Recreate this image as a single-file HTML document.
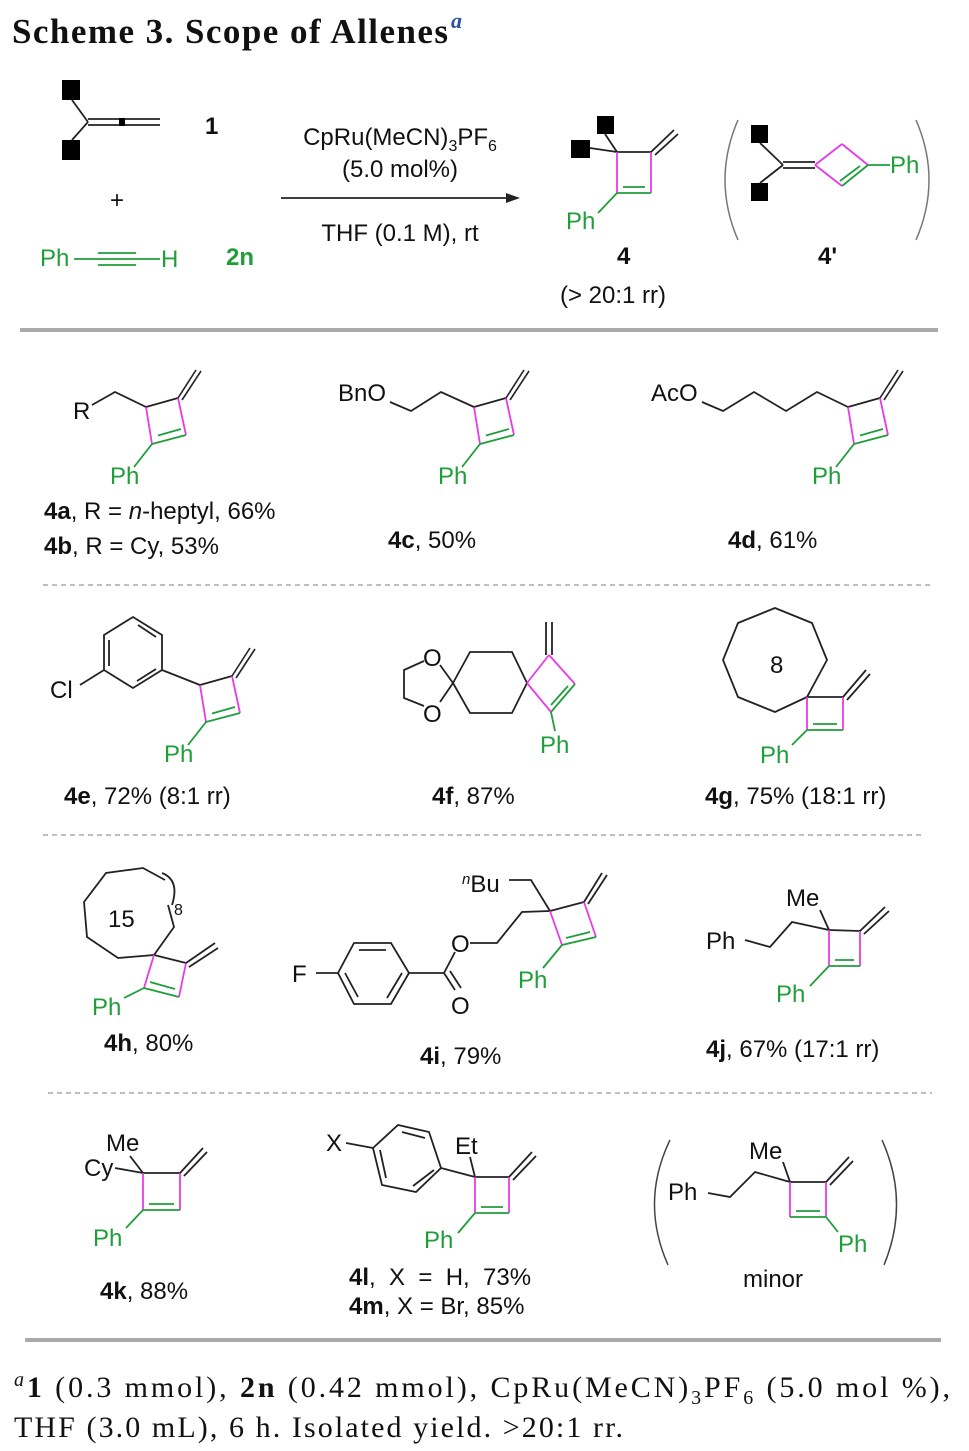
<!DOCTYPE html>
<html><head><meta charset="utf-8"><style>
html,body{margin:0;padding:0;background:#fff}
svg{display:block}
text{font-family:"Liberation Sans",sans-serif;font-size:24px;fill:#111}
.g{fill:#1f9e3a}
.s{font-family:"Liberation Serif",serif}
.b{font-weight:bold}
</style></head><body>
<svg width="969" height="1451" viewBox="0 0 969 1451" xmlns="http://www.w3.org/2000/svg">
<defs>
<g id="tb">
<line x1="0" y1="0" x2="32" y2="-9" stroke="#222" stroke-width="1.8"/>
<line x1="32" y1="-9" x2="40" y2="28" stroke="#e83ae8" stroke-width="1.8"/>
<line x1="0" y1="0" x2="6" y2="37" stroke="#e83ae8" stroke-width="1.8"/>
<line x1="40" y1="28" x2="6" y2="37" stroke="#1f9e3a" stroke-width="1.8"/>
<line x1="35" y1="22" x2="12" y2="28.5" stroke="#1f9e3a" stroke-width="1.8"/>
<line x1="32" y1="-9" x2="50" y2="-37" stroke="#222" stroke-width="1.6"/>
<line x1="36" y1="-7" x2="55" y2="-36" stroke="#222" stroke-width="1.6"/>
<line x1="6" y1="37" x2="-12" y2="60" stroke="#1f9e3a" stroke-width="1.8"/>
</g>
</defs>
<text x="12" y="43" class="s" style="font-size:35px;font-weight:bold;fill:#111" textLength="436" lengthAdjust="spacing">Scheme 3. Scope of Allenes</text>
<text x="451" y="28" class="s" style="font-size:22px;font-style:italic;font-weight:bold;fill:#2a4fa8">a</text>

<!-- reagent 1 -->
<rect x="62" y="80" width="18" height="20" fill="#000"/>
<rect x="62" y="140" width="18" height="20" fill="#000"/>
<g stroke="#222" stroke-width="1.8" fill="none">
<line x1="72" y1="100" x2="88" y2="122"/><line x1="88" y1="122" x2="72" y2="140"/>
<line x1="88" y1="119" x2="160" y2="119"/><line x1="88" y1="125" x2="160" y2="125"/>
</g>
<rect x="119" y="118" width="6" height="8" fill="#000"/>
<text x="205" y="134" class="b">1</text>
<text x="110" y="208">+</text>
<text x="40" y="266" class="g">Ph</text>
<g stroke="#1f9e3a" stroke-width="1.8"><line x1="74" y1="259" x2="160" y2="259"/><line x1="98" y1="253" x2="136" y2="253"/><line x1="98" y1="265" x2="136" y2="265"/></g>
<text x="161" y="267" class="g">H</text>
<text x="226" y="265" class="g b">2n</text>
<!-- arrow -->
<line x1="281" y1="198" x2="512" y2="198" stroke="#222" stroke-width="1.8"/>
<polygon points="520,198 506,193 506,203" fill="#222"/>
<text x="400" y="145" text-anchor="middle">CpRu(MeCN)<tspan dy="6" style="font-size:16px">3</tspan><tspan dy="-6">PF</tspan><tspan dy="6" style="font-size:16px">6</tspan></text>
<text x="400" y="177" text-anchor="middle">(5.0 mol%)</text>
<text x="400" y="241" text-anchor="middle">THF (0.1 M), rt</text>
<!-- product 4 -->
<rect x="597" y="116" width="17" height="18" fill="#000"/>
<rect x="571" y="140" width="19" height="18" fill="#000"/>
<g stroke-width="1.8">
<line x1="605" y1="134" x2="617" y2="152" stroke="#222"/><line x1="590" y1="148" x2="617" y2="152" stroke="#222"/>
<line x1="617" y1="152" x2="651" y2="152" stroke="#222"/>
<line x1="651" y1="152" x2="651" y2="193" stroke="#e83ae8"/><line x1="617" y1="152" x2="617" y2="193" stroke="#e83ae8"/>
<line x1="617" y1="193" x2="651" y2="193" stroke="#1f9e3a"/><line x1="623" y1="187" x2="645" y2="187" stroke="#1f9e3a"/>
<line x1="651" y1="152" x2="674" y2="130" stroke="#222"/><line x1="655" y1="155" x2="678" y2="134" stroke="#222"/>
<line x1="617" y1="193" x2="598" y2="213" stroke="#1f9e3a"/>
</g>
<text x="566" y="229" class="g">Ph</text>
<text x="617" y="264" class="b">4</text>
<text x="560" y="303">(&gt; 20:1 rr)</text>
<!-- 4' -->
<path d="M738,120 Q712,180 738,240" stroke="#777" stroke-width="1.5" fill="none"/>
<path d="M916,120 Q942,180 916,240" stroke="#777" stroke-width="1.5" fill="none"/>
<rect x="751" y="125" width="17" height="18" fill="#000"/>
<rect x="751" y="183" width="17" height="18" fill="#000"/>
<g stroke-width="1.8">
<line x1="760" y1="143" x2="783" y2="165" stroke="#222"/><line x1="783" y1="165" x2="760" y2="183" stroke="#222"/>
<line x1="783" y1="162" x2="815" y2="162" stroke="#222"/><line x1="783" y1="168" x2="815" y2="168" stroke="#222"/>
<line x1="815" y1="165" x2="842" y2="144" stroke="#e83ae8"/><line x1="842" y1="144" x2="868" y2="165" stroke="#e83ae8"/>
<line x1="868" y1="165" x2="842" y2="186" stroke="#1f9e3a"/><line x1="860" y1="166" x2="840" y2="181" stroke="#1f9e3a"/>
<line x1="842" y1="186" x2="815" y2="165" stroke="#e83ae8"/>
<line x1="868" y1="165" x2="890" y2="165" stroke="#1f9e3a"/>
</g>
<text x="890" y="173" class="g">Ph</text>
<text x="818" y="264" class="b">4'</text>
<rect x="20" y="328" width="918" height="4" fill="#aaa"/>

<!-- 4a -->
<use href="#tb" x="146" y="407"/>
<polyline points="92,405 115,392 146,407" stroke="#222" stroke-width="1.8" fill="none"/>
<text x="73" y="419">R</text>
<text x="110" y="484" class="g">Ph</text>
<text x="44" y="519"><tspan class="b">4a</tspan>, R = <tspan font-style="italic">n</tspan>-heptyl, 66%</text>
<text x="44" y="554"><tspan class="b">4b</tspan>, R = Cy, 53%</text>
<!-- 4c -->
<use href="#tb" x="474" y="407"/>
<polyline points="390,402 411,411 441,392 474,407" stroke="#222" stroke-width="1.8" fill="none"/>
<text x="338" y="401">BnO</text>
<text x="438" y="484" class="g">Ph</text>
<text x="388" y="548"><tspan class="b">4c</tspan>, 50%</text>
<!-- 4d -->
<use href="#tb" x="848" y="407"/>
<polyline points="702,402 723,411 754,392 786,411 817,392 848,407" stroke="#222" stroke-width="1.8" fill="none"/>
<text x="651" y="401">AcO</text>
<text x="812" y="484" class="g">Ph</text>
<text x="728" y="548"><tspan class="b">4d</tspan>, 61%</text>
<line x1="43" y1="585" x2="932" y2="585" stroke="#999" stroke-width="1.3" stroke-dasharray="5,4"/>

<!-- 4e -->
<use href="#tb" x="200" y="685"/>
<g stroke="#222" stroke-width="1.8" fill="none">
<polygon points="133,617 162,635 162,670 133,688 104,670 104,635"/>
<line x1="138" y1="625" x2="156" y2="637"/><line x1="109" y1="640" x2="109" y2="666"/><line x1="137" y1="681" x2="156" y2="669"/>
<line x1="162" y1="670" x2="200" y2="685"/><line x1="104" y1="670" x2="80" y2="685"/>
</g>
<text x="50" y="698">Cl</text>
<text x="164" y="762" class="g">Ph</text>
<text x="64" y="804"><tspan class="b">4e</tspan>, 72% (8:1 rr)</text>
<!-- 4f -->
<g stroke-width="1.8" fill="none">
<polyline points="453,683 470,652 512,652 527,683 512,713 470,713 453,683" stroke="#222"/>
<line x1="453" y1="683" x2="440" y2="665" stroke="#222"/><line x1="453" y1="683" x2="440" y2="702" stroke="#222"/>
<polyline points="424,661 404,670 404,698 424,706" stroke="#222"/>
<line x1="527" y1="683" x2="549" y2="655" stroke="#e83ae8"/><line x1="549" y1="655" x2="575" y2="684" stroke="#e83ae8"/>
<line x1="575" y1="684" x2="551" y2="712" stroke="#1f9e3a"/><line x1="568" y1="686" x2="551" y2="705" stroke="#1f9e3a"/>
<line x1="551" y1="712" x2="527" y2="683" stroke="#e83ae8"/>
<line x1="546" y1="655" x2="546" y2="622" stroke="#222"/><line x1="552" y1="655" x2="552" y2="622" stroke="#222"/>
<line x1="551" y1="712" x2="555" y2="731" stroke="#1f9e3a"/>
</g>
<text x="423" y="666">O</text><text x="423" y="722">O</text>
<text x="540" y="753" class="g">Ph</text>
<text x="432" y="804"><tspan class="b">4f</tspan>, 87%</text>
<!-- 4g -->
<g stroke-width="1.8" fill="none">
<polygon points="827,660 807,697 775,712 738,697 723,660 738,623 775,608 812,623" stroke="#222"/>
<line x1="807" y1="697" x2="843" y2="697" stroke="#222"/>
<line x1="843" y1="697" x2="843" y2="730" stroke="#e83ae8"/><line x1="807" y1="697" x2="807" y2="730" stroke="#e83ae8"/>
<line x1="807" y1="730" x2="843" y2="730" stroke="#1f9e3a"/><line x1="813" y1="724" x2="837" y2="724" stroke="#1f9e3a"/>
<line x1="843" y1="697" x2="866" y2="670" stroke="#222"/><line x1="847" y1="700" x2="870" y2="674" stroke="#222"/>
<line x1="807" y1="730" x2="792" y2="745" stroke="#1f9e3a"/>
</g>
<text x="770" y="673">8</text>
<text x="760" y="763" class="g">Ph</text>
<text x="705" y="804"><tspan class="b">4g</tspan>, 75% (18:1 rr)</text>
<line x1="43" y1="835" x2="925" y2="835" stroke="#999" stroke-width="1.3" stroke-dasharray="5,4"/>

<!-- 4h -->
<g stroke-width="1.8" fill="none">
<polyline points="165,880 143,868 106,873 84,902 87,937 118,958 154,955 174,927 168,905" stroke="#222"/>
<path d="M162,873 Q180,880 172,905" stroke="#222"/>
<line x1="154" y1="955" x2="186" y2="963" stroke="#222"/>
<line x1="186" y1="963" x2="179" y2="997" stroke="#e83ae8"/><line x1="154" y1="955" x2="144" y2="988" stroke="#e83ae8"/>
<line x1="144" y1="988" x2="179" y2="997" stroke="#1f9e3a"/><line x1="150" y1="982" x2="175" y2="989" stroke="#1f9e3a"/>
<line x1="186" y1="963" x2="215" y2="943" stroke="#222"/><line x1="189" y1="967" x2="218" y2="948" stroke="#222"/>
<line x1="144" y1="988" x2="124" y2="998" stroke="#1f9e3a"/>
</g>
<text x="174" y="915" style="font-size:16px">8</text>
<text x="108" y="927">15</text>
<text x="92" y="1015" class="g">Ph</text>
<text x="104" y="1051"><tspan class="b">4h</tspan>, 80%</text>
<!-- 4i -->
<g stroke-width="1.8" fill="none">
<polygon points="338,973 354,943 391,943 409,973 391,1004 354,1004" stroke="#222"/>
<line x1="402" y1="973" x2="387" y2="998" stroke="#222"/><line x1="345" y1="973" x2="358" y2="997" stroke="#222"/>
<line x1="359" y1="950" x2="386" y2="950" stroke="#222"/>
<line x1="316" y1="973" x2="338" y2="973" stroke="#222"/>
<line x1="409" y1="973" x2="444" y2="973" stroke="#222"/>
<line x1="444" y1="973" x2="455" y2="952" stroke="#222"/>
<line x1="444" y1="973" x2="455" y2="990" stroke="#222"/><line x1="450" y1="971" x2="461" y2="988" stroke="#222"/>
<polyline points="470,943 497,943 522,912 550,911" stroke="#222"/>
<polyline points="550,911 531,880 509,880" stroke="#222"/>
<line x1="550" y1="911" x2="584" y2="902" stroke="#222"/>
<line x1="584" y1="902" x2="596" y2="937" stroke="#e83ae8"/><line x1="550" y1="911" x2="562" y2="945" stroke="#e83ae8"/>
<line x1="562" y1="945" x2="596" y2="937" stroke="#1f9e3a"/><line x1="566" y1="938" x2="590" y2="932" stroke="#1f9e3a"/>
<line x1="584" y1="902" x2="602" y2="873" stroke="#222"/><line x1="588" y1="904" x2="607" y2="875" stroke="#222"/>
<line x1="562" y1="945" x2="543" y2="968" stroke="#1f9e3a"/>
</g>
<text x="292" y="982">F</text>
<text x="451" y="952">O</text><text x="451" y="1014">O</text>
<text x="462" y="892"><tspan dy="-8" style="font-size:15px;font-style:italic">n</tspan><tspan dy="8">Bu</tspan></text>
<text x="518" y="988" class="g">Ph</text>
<text x="420" y="1064"><tspan class="b">4i</tspan>, 79%</text>
<!-- 4j -->
<g stroke-width="1.8" fill="none">
<line x1="820" y1="910" x2="829" y2="930" stroke="#222"/>
<polyline points="829,930 792,922 770,947 745,940" stroke="#222"/>
<line x1="829" y1="930" x2="860" y2="931" stroke="#222"/>
<line x1="860" y1="931" x2="860" y2="966" stroke="#e83ae8"/><line x1="829" y1="930" x2="829" y2="966" stroke="#e83ae8"/>
<line x1="829" y1="966" x2="860" y2="966" stroke="#1f9e3a"/><line x1="835" y1="960" x2="854" y2="960" stroke="#1f9e3a"/>
<line x1="860" y1="931" x2="885" y2="907" stroke="#222"/><line x1="864" y1="934" x2="889" y2="911" stroke="#222"/>
<line x1="829" y1="966" x2="810" y2="986" stroke="#1f9e3a"/>
</g>
<text x="786" y="906">Me</text>
<text x="706" y="949">Ph</text>
<text x="776" y="1002" class="g">Ph</text>
<text x="706" y="1057"><tspan class="b">4j</tspan>, 67% (17:1 rr)</text>
<line x1="48" y1="1093" x2="932" y2="1093" stroke="#999" stroke-width="1.3" stroke-dasharray="5,4"/>

<!-- 4k -->
<g stroke-width="1.8" fill="none">
<line x1="130" y1="1156" x2="143" y2="1173" stroke="#222"/><line x1="115" y1="1168" x2="143" y2="1173" stroke="#222"/>
<line x1="143" y1="1173" x2="180" y2="1173" stroke="#222"/>
<line x1="180" y1="1173" x2="180" y2="1210" stroke="#e83ae8"/><line x1="143" y1="1173" x2="143" y2="1210" stroke="#e83ae8"/>
<line x1="143" y1="1210" x2="180" y2="1210" stroke="#1f9e3a"/><line x1="149" y1="1204" x2="174" y2="1204" stroke="#1f9e3a"/>
<line x1="180" y1="1173" x2="203" y2="1148" stroke="#222"/><line x1="184" y1="1176" x2="207" y2="1152" stroke="#222"/>
<line x1="143" y1="1210" x2="126" y2="1228" stroke="#1f9e3a"/>
</g>
<text x="106" y="1151">Me</text>
<text x="84" y="1176">Cy</text>
<text x="93" y="1246" class="g">Ph</text>
<text x="100" y="1299"><tspan class="b">4k</tspan>, 88%</text>
<!-- 4l -->
<g stroke-width="1.8" fill="none">
<polygon points="373,1148 398,1125 429,1132 441,1168 416,1192 382,1185" stroke="#222"/>
<line x1="402" y1="1132" x2="425" y2="1138" stroke="#222"/><line x1="434" y1="1170" x2="413" y2="1186" stroke="#222"/><line x1="380" y1="1150" x2="386" y2="1178" stroke="#222"/>
<line x1="346" y1="1143" x2="373" y2="1148" stroke="#222"/>
<line x1="441" y1="1168" x2="475" y2="1177" stroke="#222"/>
<line x1="470" y1="1157" x2="475" y2="1177" stroke="#222"/>
<line x1="475" y1="1177" x2="509" y2="1177" stroke="#222"/>
<line x1="509" y1="1177" x2="509" y2="1213" stroke="#e83ae8"/><line x1="475" y1="1177" x2="475" y2="1213" stroke="#e83ae8"/>
<line x1="475" y1="1213" x2="509" y2="1213" stroke="#1f9e3a"/><line x1="481" y1="1207" x2="503" y2="1207" stroke="#1f9e3a"/>
<line x1="509" y1="1177" x2="532" y2="1152" stroke="#222"/><line x1="513" y1="1180" x2="536" y2="1156" stroke="#222"/>
<line x1="475" y1="1213" x2="458" y2="1233" stroke="#1f9e3a"/>
</g>
<text x="326" y="1151">X</text>
<text x="455" y="1154">Et</text>
<text x="424" y="1248" class="g">Ph</text>
<text x="349" y="1285" style="white-space:pre" xml:space="preserve"><tspan class="b">4l</tspan>,  X  =  H,  73%</text>
<text x="349" y="1314"><tspan class="b">4m</tspan>, X = Br, 85%</text>
<!-- minor -->
<path d="M670,1140 Q640,1202 668,1265" stroke="#444" stroke-width="1.5" fill="none"/>
<path d="M882,1140 Q910,1202 884,1265" stroke="#444" stroke-width="1.5" fill="none"/>
<g stroke-width="1.8" fill="none">
<line x1="783" y1="1162" x2="790" y2="1182" stroke="#222"/>
<polyline points="790,1182 755,1172 730,1197 708,1193" stroke="#222"/>
<line x1="790" y1="1182" x2="826" y2="1182" stroke="#222"/>
<line x1="826" y1="1182" x2="826" y2="1217" stroke="#e83ae8"/><line x1="790" y1="1182" x2="790" y2="1217" stroke="#e83ae8"/>
<line x1="790" y1="1217" x2="826" y2="1217" stroke="#1f9e3a"/><line x1="796" y1="1211" x2="820" y2="1211" stroke="#1f9e3a"/>
<line x1="826" y1="1182" x2="849" y2="1157" stroke="#222"/><line x1="830" y1="1185" x2="853" y2="1161" stroke="#222"/>
<line x1="826" y1="1217" x2="838" y2="1232" stroke="#1f9e3a"/>
</g>
<text x="749" y="1159">Me</text>
<text x="668" y="1200">Ph</text>
<text x="838" y="1252" class="g">Ph</text>
<text x="743" y="1287">minor</text>
<rect x="25" y="1338" width="916" height="4" fill="#aaa"/>

<!-- footnote -->
<text x="14" y="1397" class="s" style="font-size:30px" textLength="936" lengthAdjust="spacing"><tspan dy="-11" style="font-size:20px;font-style:italic">a</tspan><tspan dy="11" font-weight="bold">1</tspan> (0.3 mmol), <tspan font-weight="bold">2n</tspan> (0.42 mmol), CpRu(MeCN)<tspan dy="7" style="font-size:20px">3</tspan><tspan dy="-7">PF</tspan><tspan dy="7" style="font-size:20px">6</tspan><tspan dy="-7"> (5.0 mol %),</tspan></text>
<text x="14" y="1437" class="s" style="font-size:30px" textLength="609" lengthAdjust="spacing">THF (3.0 mL), 6 h. Isolated yield. &gt;20:1 rr.</text>
</svg>
</body></html>
